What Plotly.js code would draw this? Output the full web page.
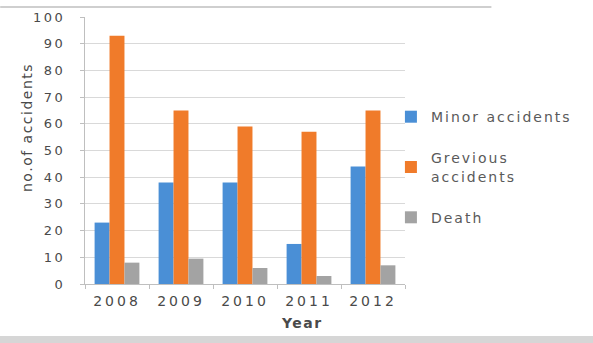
<!DOCTYPE html>
<html>
<head>
<meta charset="utf-8">
<script src="https://cdn.plot.ly/plotly-3.0.1.min.js"></script>
<style>
html,body{margin:0;padding:0;background:#fff;}
#chart{width:593px;height:343px;}
.xtick text{letter-spacing:3px;}
.ytick text{letter-spacing:2.5px;}
.legendtext{letter-spacing:2px;}
.annotation-text{letter-spacing:1.5px;}
</style>
</head>
<body>
<div id="chart"></div>
<script>
const years = ["2008", "2009", "2010", "2011", "2012"];
const minorAccidents = [23, 38, 38, 15, 44];
const greviousAccidents = [93, 65, 59, 57, 65];
const deaths = [8, 9.5, 6, 3, 7];
const seriesNames = ["Minor accidents", "Grevious<br>accidents", "Death"];
const seriesColors = ["#4a8fd6", "#f07b2a", "#a3a3a3"];
const seriesValues = [minorAccidents, greviousAccidents, deaths];
const xTitle = "Year";
const yTitle = "no.of accidents";

const traces = seriesValues.map((vals, i) => ({
  type: "bar",
  name: seriesNames[i],
  x: years,
  y: vals,
  marker: {color: seriesColors[i]},
  legendgroup: "g" + i,
  hoverinfo: "y"
}));

const layout = {
  width: 593,
  height: 343,
  margin: {l: 85, r: 188, t: 17, b: 59},
  paper_bgcolor: "#ffffff",
  plot_bgcolor: "#ffffff",
  barmode: "group",
  bargap: 0.3,
  bargroupgap: 0,
  font: {family: "DejaVu Sans, Liberation Sans, sans-serif", color: "#484848", size: 13},
  xaxis: {
    type: "category",
    showline: true,
    linecolor: "#bfbfbf",
    ticks: "outside",
    tickcolor: "#bfbfbf",
    ticklen: 4,
    tickson: "boundaries",
    ticklabelstandoff: 4,
    tickfont: {size: 14, color: "#4a4a4a"}
  },
  yaxis: {
    range: [0, 100],
    dtick: 10,
    showgrid: true,
    gridcolor: "#d9d9d9",
    showline: true,
    linecolor: "#bfbfbf",
    ticks: "outside",
    tickcolor: "#bfbfbf",
    ticklen: 4,
    ticklabelstandoff: 12,
    zeroline: false,
    tickfont: {size: 13, color: "#4a4a4a"}
  },
  legend: {
    x: 0.956,
    y: 0.685,
    xanchor: "left",
    yanchor: "top",
    traceorder: "grouped",
    tracegroupgap: 20,
    font: {size: 14, color: "#5a5a5a"},
    bgcolor: "rgba(0,0,0,0)",
    itemwidth: 30
  },
  annotations: [
    {text: xTitle, xref: "paper", yref: "paper", x: (302 - 85) / 320, y: (284 - 323) / 267,
     xanchor: "center", yanchor: "middle", showarrow: false,
     font: {size: 14, color: "#4a4a4a", weight: "bold"}},
    {text: yTitle, xref: "paper", yref: "paper", x: (27 - 85) / 320, y: (284 - 128) / 267,
     xanchor: "center", yanchor: "middle", showarrow: false, textangle: -90,
     font: {size: 14, color: "#4a4a4a"}}
  ],
  shapes: [
    {type: "line", xref: "paper", yref: "paper", x0: -0.265, x1: 1.27, y0: 1.037, y1: 1.037, line: {color: "#cfcfcf", width: 2}},
    {type: "rect", xref: "paper", yref: "paper", x0: -0.3, x1: 1.6, y0: -0.195, y1: -0.25, fillcolor: "#d6d6d6", line: {width: 0}}
  ]
};

Plotly.newPlot("chart", traces, layout, {displayModeBar: false, staticPlot: true});
</script>
</body>
</html>
